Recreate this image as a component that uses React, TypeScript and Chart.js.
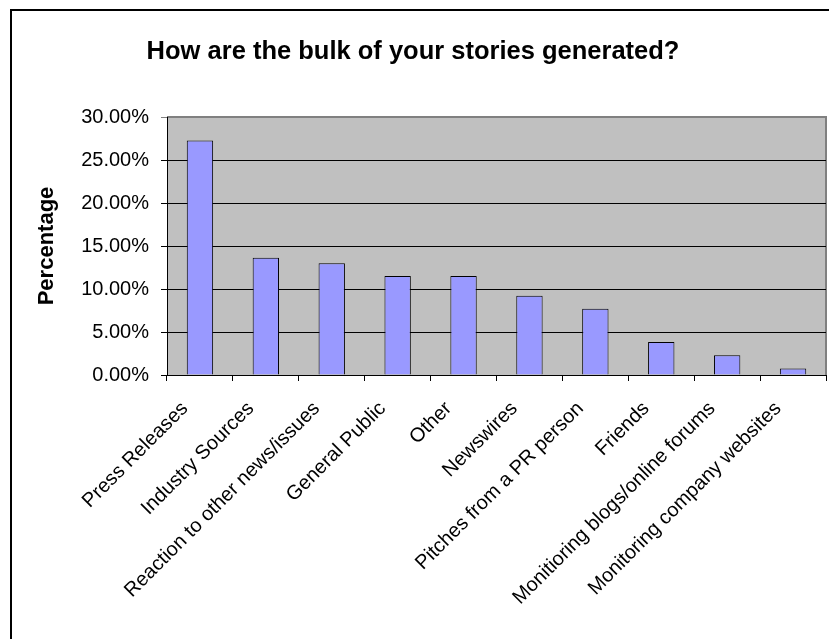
import React, { useEffect, useRef } from 'react';
import { Chart, registerables } from 'chart.js';

Chart.register(...registerables);

const chartTitle = 'How are the bulk of your stories generated?';
const yAxisTitle = 'Percentage';
const categories = [
  'Press Releases',
  'Industry Sources',
  'Reaction to other news/issues',
  'General Public',
  'Other',
  'Newswires',
  'Pitches from a PR person',
  'Friends',
  'Monitioring blogs/online forums',
  'Monitoring company websites',
];
const percentages = [27.27, 13.64, 12.99, 11.5, 11.5, 9.22, 7.69, 3.85, 2.31, 0.77];
const yMin = 0;
const yMax = 30;
const yStep = 5;

const FONT = '"Liberation Sans", Arial, sans-serif';

const framePlugin = {
  id: 'frame',
  beforeDraw(chart: any) {
    const { ctx, chartArea } = chart;
    ctx.save();
    // outer chart frame
    ctx.strokeStyle = '#000';
    ctx.lineWidth = 2;
    ctx.strokeRect(11, 10, 1000, 1000);
    // plot area
    ctx.fillStyle = '#C0C0C0';
    ctx.fillRect(chartArea.left, chartArea.top, chartArea.right - chartArea.left, chartArea.bottom - chartArea.top);
    ctx.strokeStyle = '#808080';
    ctx.lineWidth = 2;
    ctx.beginPath();
    ctx.moveTo(chartArea.left, chartArea.top);
    ctx.lineTo(chartArea.right, chartArea.top);
    ctx.lineTo(chartArea.right, chartArea.bottom);
    ctx.stroke();
    ctx.restore();
  },
};

export default function App() {
  const canvasRef = useRef<HTMLCanvasElement | null>(null);

  useEffect(() => {
    const canvas = canvasRef.current;
    if (!canvas) return;
    const chart = new Chart(canvas, {
      type: 'bar',
      data: {
        labels: categories,
        datasets: [
          {
            data: percentages,
            backgroundColor: '#9999FF',
            borderColor: '#000000',
            borderWidth: 1,
            categoryPercentage: 1,
            barPercentage: 0.4,
          },
        ],
      },
      options: {
        responsive: false,
        animation: false,
        events: [],
        layout: { padding: { left: 0, right: 3, top: 0, bottom: 0 } },
        plugins: {
          legend: { display: false },
          tooltip: { enabled: false },
          title: {
            display: true,
            text: chartTitle,
            color: '#000',
            font: { family: FONT, size: 25.5, weight: 'bold' },
            padding: { top: 37, bottom: 49.4 },
          },
        },
        scales: {
          x: {
            afterFit: (s: any) => {
              s.height = 264;
            },
            grid: {
              display: true,
              drawOnChartArea: false,
              drawTicks: true,
              tickLength: 6,
              color: '#000',
              offset: true,
            },
            border: { display: true, color: '#000', width: 1 },
            ticks: {
              autoSkip: false,
              minRotation: 45,
              maxRotation: 45,
              color: '#000',
              padding: 16,
              labelOffset: -15,
              font: { family: FONT, size: 20 },
            },
          },
          y: {
            min: yMin,
            max: yMax,
            afterFit: (s: any) => {
              s.width = 167;
            },
            grid: {
              color: (c: any) => (c.tick && c.tick.value === yMax ? '#808080' : '#000'),
              lineWidth: 1,
              drawTicks: true,
              tickLength: 6,
            },
            border: { display: true, color: '#000', width: 1 },
            ticks: {
              stepSize: yStep,
              color: '#000',
              padding: 12,
              font: { family: FONT, size: 20 },
              callback: (v: any) => Number(v).toFixed(2) + '%',
            },
            title: {
              display: true,
              text: yAxisTitle,
              color: '#000',
              font: { family: FONT, size: 22, weight: 'bold' },
              padding: { top: 34, bottom: 0 },
            },
          },
        },
      },
      plugins: [framePlugin],
    });
    return () => chart.destroy();
  }, []);

  return (
    <canvas
      ref={canvasRef}
      width={829}
      height={639}
      style={{ position: 'absolute', left: 0, top: 0, width: 829, height: 639, display: 'block' }}
    />
  );
}
